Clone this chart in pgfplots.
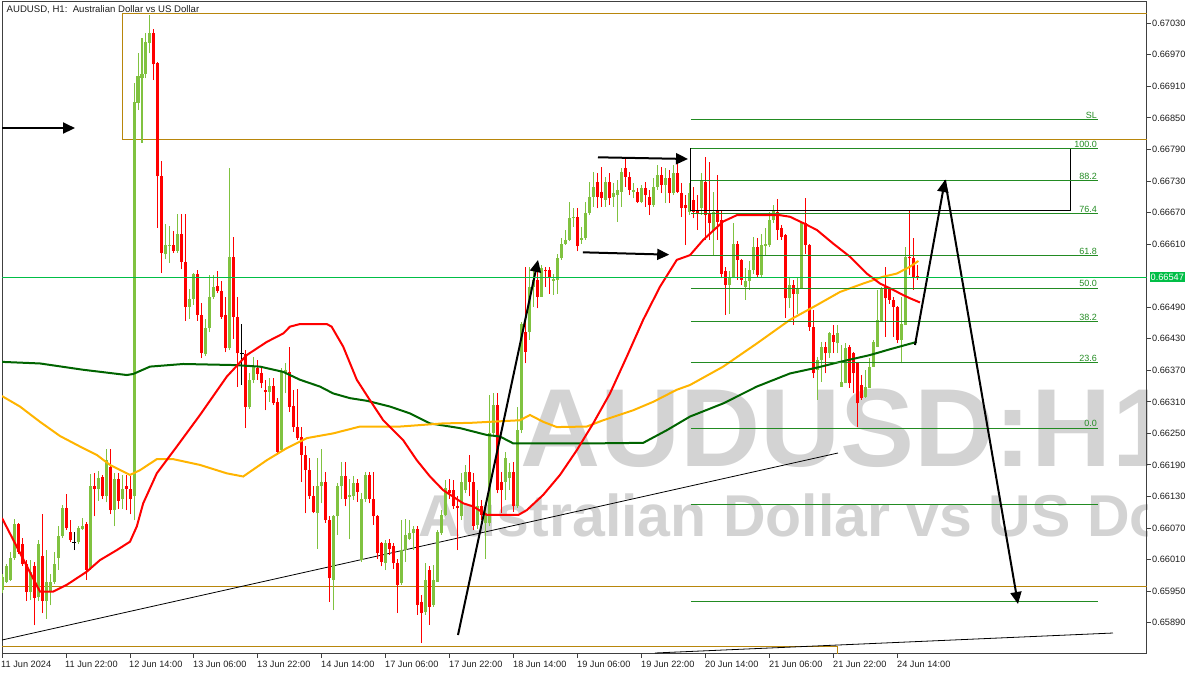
\documentclass[border=0pt]{standalone}
\usepackage{pgfplots}
\pgfplotsset{compat=1.18}
\usepackage{pgfplotstable}
\usepackage{fontspec}
\setmainfont{Liberation Sans}
\usetikzlibrary{arrows.meta}

\definecolor{bullc}{RGB}{128,194,64}
\definecolor{bearc}{RGB}{255,0,0}
\definecolor{maorange}{RGB}{255,180,0}
\definecolor{madkgreen}{RGB}{0,100,0}
\definecolor{fibc}{RGB}{34,139,34}
\definecolor{pricec}{RGB}{0,190,70}
\definecolor{goldline}{RGB}{184,134,11}
\definecolor{wmark}{RGB}{211,211,211}
\definecolor{framec}{RGB}{64,64,64}
\definecolor{axtext}{RGB}{30,30,30}

% bullish candles: bar index, open, high, low, close
\pgfplotstableread{
i o h l c
0 0.65953 0.65983 0.65946 0.65976
1 0.65968 0.66002 0.65966 0.65998
2 0.65972 0.66025 0.65970 0.66013
3 0.66013 0.66087 0.66010 0.66077
7 0.65949 0.66010 0.65934 0.65987
9 0.65938 0.66047 0.65931 0.66040
11 0.65931 0.66028 0.65897 0.65968
12 0.65949 0.65983 0.65923 0.65968
13 0.65968 0.66025 0.65964 0.66002
14 0.66013 0.66073 0.65991 0.66055
15 0.66055 0.66113 0.66051 0.66109
19 0.66043 0.66073 0.66040 0.66070
20 0.66069 0.66090 0.66066 0.66073
22 0.65994 0.66173 0.65991 0.66149
24 0.66145 0.66179 0.66122 0.66165
26 0.66130 0.66220 0.66119 0.66199
28 0.66104 0.66175 0.66073 0.66164
30 0.66126 0.66171 0.66107 0.66145
33 0.66130 0.66916 0.66085 0.66881
34 0.66879 0.66973 0.66865 0.66930
35 0.66926 0.67002 0.66803 0.66934
36 0.66934 0.67011 0.66925 0.66995
37 0.66993 0.67046 0.66973 0.67011
41 0.66591 0.66649 0.66581 0.66608
42 0.66606 0.66645 0.66574 0.66608
44 0.66597 0.66668 0.66593 0.66630
47 0.66491 0.66525 0.66468 0.66506
48 0.66506 0.66555 0.66495 0.66553
51 0.66401 0.66468 0.66397 0.66450
52 0.66450 0.66551 0.66442 0.66510
53 0.66510 0.66551 0.66506 0.66528
57 0.66412 0.66754 0.66408 0.66585
62 0.66300 0.66365 0.66296 0.66352
63 0.66352 0.66396 0.66345 0.66377
67 0.66328 0.66355 0.66310 0.66340
70 0.66218 0.66374 0.66215 0.66367
71 0.66364 0.66383 0.66326 0.66371
79 0.66098 0.66203 0.66031 0.66149
80 0.66149 0.66220 0.66117 0.66158
83 0.65971 0.66095 0.65914 0.66092
84 0.66092 0.66155 0.66057 0.66149
85 0.66149 0.66196 0.66126 0.66168
87 0.66129 0.66164 0.66050 0.66132
88 0.66130 0.66168 0.66123 0.66155
90 0.66009 0.66136 0.66006 0.66126
91 0.66126 0.66177 0.66120 0.66171
96 0.66003 0.66047 0.65990 0.66041
100 0.65965 0.66085 0.65962 0.66028
101 0.66028 0.66088 0.66006 0.66057
102 0.66050 0.66085 0.66047 0.66060
103 0.66060 0.66073 0.66028 0.66069
106 0.65911 0.66003 0.65905 0.65971
108 0.65924 0.66000 0.65920 0.65971
109 0.65968 0.66066 0.65968 0.66063
110 0.66060 0.66104 0.66057 0.66095
111 0.66095 0.66161 0.66092 0.66146
115 0.66092 0.66174 0.66085 0.66158
116 0.66142 0.66190 0.66136 0.66177
119 0.66076 0.66142 0.66069 0.66111
121 0.66079 0.66114 0.66012 0.66098
122 0.66079 0.66323 0.66073 0.66250
123 0.66250 0.66326 0.66245 0.66304
126 0.66158 0.66215 0.66123 0.66203
127 0.66165 0.66193 0.66142 0.66177
129 0.66111 0.66301 0.66108 0.66256
130 0.66256 0.66462 0.66250 0.66459
132 0.66443 0.66567 0.66428 0.66529
133 0.66529 0.66567 0.66491 0.66542
135 0.66510 0.66570 0.66510 0.66564
138 0.66540 0.66554 0.66513 0.66543
139 0.66542 0.66592 0.66516 0.66583
140 0.66583 0.66621 0.66580 0.66611
141 0.66611 0.66637 0.66608 0.66618
142 0.66618 0.66691 0.66615 0.66659
143 0.66659 0.66678 0.66643 0.66662
145 0.66618 0.66643 0.66611 0.66621
146 0.66621 0.66691 0.66618 0.66669
147 0.66669 0.66729 0.66665 0.66700
148 0.66700 0.66748 0.66681 0.66719
151 0.66694 0.66738 0.66681 0.66729
153 0.66700 0.66726 0.66681 0.66707
154 0.66703 0.66732 0.66653 0.66713
155 0.66710 0.66754 0.66681 0.66748
158 0.66710 0.66726 0.66697 0.66713
160 0.66691 0.66722 0.66688 0.66716
163 0.66684 0.66735 0.66681 0.66719
164 0.66719 0.66760 0.66713 0.66741
166 0.66722 0.66754 0.66688 0.66735
168 0.66707 0.66760 0.66703 0.66745
172 0.66672 0.66726 0.66665 0.66707
175 0.66678 0.66745 0.66665 0.66732
178 0.66637 0.66710 0.66589 0.66672
182 0.66532 0.66558 0.66478 0.66548
183 0.66545 0.66650 0.66545 0.66611
186 0.66529 0.66564 0.66504 0.66539
187 0.66539 0.66577 0.66523 0.66561
188 0.66561 0.66624 0.66554 0.66605
190 0.66551 0.66630 0.66548 0.66608
191 0.66606 0.66640 0.66589 0.66611
192 0.66608 0.66672 0.66605 0.66656
193 0.66656 0.66684 0.66650 0.66675
197 0.66507 0.66545 0.66488 0.66532
199 0.66516 0.66548 0.66478 0.66526
200 0.66526 0.66653 0.66526 0.66650
204 0.66371 0.66396 0.66314 0.66390
205 0.66390 0.66424 0.66348 0.66415
207 0.66402 0.66443 0.66393 0.66440
209 0.66421 0.66456 0.66402 0.66440
210 0.66339 0.66418 0.66339 0.66348
211 0.66345 0.66421 0.66345 0.66412
216 0.66320 0.66371 0.66317 0.66339
217 0.66336 0.66393 0.66336 0.66377
218 0.66377 0.66428 0.66377 0.66424
219 0.66415 0.66523 0.66415 0.66466
220 0.66462 0.66529 0.66462 0.66526
225 0.66428 0.66510 0.66383 0.66459
226 0.66456 0.66605 0.66456 0.66586
}\bull

% bearish candles
\pgfplotstableread{
i o h l c
4 0.66077 0.66079 0.66021 0.66025
5 0.66040 0.66051 0.65998 0.66002
6 0.66002 0.66010 0.65931 0.65949
8 0.65998 0.66006 0.65885 0.65937
10 0.66017 0.66097 0.65908 0.65931
16 0.66109 0.66134 0.66066 0.66070
17 0.66062 0.66085 0.66043 0.66047
21 0.66077 0.66081 0.65972 0.65991
23 0.66150 0.66175 0.66092 0.66144
25 0.66167 0.66170 0.66126 0.66130
27 0.66186 0.66220 0.66096 0.66104
29 0.66164 0.66175 0.66107 0.66122
31 0.66149 0.66171 0.66104 0.66144
32 0.66145 0.66168 0.66096 0.66126
38 0.67011 0.67019 0.66922 0.66952
39 0.66954 0.66957 0.66641 0.66739
40 0.66739 0.66769 0.66555 0.66593
43 0.66608 0.66634 0.66593 0.66597
45 0.66630 0.66668 0.66562 0.66576
46 0.66576 0.66668 0.66464 0.66491
49 0.66553 0.66561 0.66464 0.66476
50 0.66476 0.66498 0.66393 0.66403
54 0.66531 0.66559 0.66517 0.66521
55 0.66521 0.66540 0.66468 0.66472
56 0.66476 0.66510 0.66404 0.66412
58 0.66585 0.66624 0.66430 0.66472
59 0.66472 0.66510 0.66339 0.66402
61 0.66401 0.66409 0.66260 0.66300
64 0.66374 0.66390 0.66352 0.66363
65 0.66365 0.66377 0.66336 0.66345
66 0.66333 0.66352 0.66294 0.66328
68 0.66340 0.66355 0.66304 0.66307
69 0.66310 0.66317 0.66209 0.66215
72 0.66367 0.66414 0.66291 0.66301
73 0.66302 0.66333 0.66253 0.66262
74 0.66263 0.66334 0.66237 0.66241
75 0.66244 0.66263 0.66158 0.66209
76 0.66209 0.66226 0.66098 0.66180
77 0.66180 0.66203 0.66126 0.66130
78 0.66130 0.66149 0.66098 0.66100
81 0.66158 0.66177 0.66080 0.66085
82 0.66085 0.66092 0.65930 0.65974
86 0.66168 0.66196 0.66111 0.66126
89 0.66155 0.66164 0.66120 0.66139
92 0.66171 0.66177 0.66117 0.66126
93 0.66126 0.66177 0.66076 0.66092
94 0.66092 0.66095 0.66012 0.66022
95 0.66041 0.66044 0.65997 0.66006
97 0.66041 0.66050 0.66019 0.66031
98 0.66035 0.66041 0.65993 0.66003
99 0.66003 0.66012 0.65908 0.65962
104 0.66069 0.66073 0.65905 0.65924
105 0.65930 0.65943 0.65851 0.65908
107 0.65990 0.65997 0.65886 0.65920
112 0.66142 0.66164 0.66126 0.66136
113 0.66142 0.66161 0.66107 0.66111
114 0.66112 0.66130 0.66028 0.66109
117 0.66177 0.66209 0.66130 0.66158
118 0.66158 0.66174 0.66066 0.66073
120 0.66111 0.66123 0.66085 0.66095
124 0.66304 0.66326 0.66136 0.66142
125 0.66158 0.66177 0.66098 0.66142
128 0.66177 0.66196 0.66101 0.66111
131 0.66443 0.66567 0.66383 0.66405
134 0.66542 0.66564 0.66488 0.66510
136 0.66561 0.66567 0.66529 0.66558
137 0.66561 0.66567 0.66516 0.66548
144 0.66661 0.66678 0.66596 0.66606
149 0.66729 0.66745 0.66678 0.66700
150 0.66710 0.66757 0.66681 0.66697
152 0.66729 0.66745 0.66684 0.66697
156 0.66754 0.66773 0.66719 0.66738
157 0.66738 0.66748 0.66703 0.66713
159 0.66710 0.66716 0.66688 0.66691
161 0.66716 0.66729 0.66681 0.66703
162 0.66700 0.66713 0.66665 0.66684
165 0.66741 0.66757 0.66707 0.66722
167 0.66735 0.66751 0.66688 0.66707
169 0.66745 0.66764 0.66707 0.66710
170 0.66707 0.66726 0.66662 0.66678
171 0.66684 0.66703 0.66608 0.66678
173 0.66694 0.66719 0.66659 0.66672
174 0.66675 0.66703 0.66637 0.66667
176 0.66729 0.66776 0.66618 0.66665
177 0.66668 0.66767 0.66618 0.66650
179 0.66675 0.66741 0.66618 0.66653
180 0.66656 0.66675 0.66545 0.66554
181 0.66558 0.66567 0.66475 0.66532
184 0.66611 0.66615 0.66542 0.66580
185 0.66580 0.66582 0.66532 0.66542
189 0.66605 0.66621 0.66548 0.66551
194 0.66672 0.66695 0.66618 0.66637
195 0.66640 0.66646 0.66618 0.66624
196 0.66627 0.66630 0.66469 0.66507
198 0.66532 0.66542 0.66456 0.66516
201 0.66650 0.66697 0.66592 0.66608
202 0.66608 0.66611 0.66445 0.66453
203 0.66453 0.66485 0.66355 0.66364
206 0.66415 0.66424 0.66364 0.66402
208 0.66437 0.66456 0.66402 0.66424
212 0.66415 0.66418 0.66336 0.66345
213 0.66402 0.66405 0.66326 0.66364
214 0.66383 0.66386 0.66263 0.66307
215 0.66342 0.66361 0.66314 0.66317
221 0.66529 0.66567 0.66434 0.66507
222 0.66526 0.66529 0.66497 0.66504
223 0.66504 0.66510 0.66434 0.66491
224 0.66491 0.66493 0.66421 0.66428
227 0.66586 0.66675 0.66551 0.66583
228 0.66583 0.66621 0.66523 0.66545
229 0.66549 0.66570 0.66542 0.66547
}\bear

% doji candles (open = close)
\pgfplotstableread{
i o h l c
18 0.66042 0.66062 0.66028 0.66042
60 0.66401 0.66459 0.66342 0.66401
}\doji

% moving averages
\pgfplotstableread{
i p
0 0.66089
9.5 0.65949
12.75 0.65949
16.2 0.65962
21.2 0.65987
24.5 0.66009
28.7 0.66028
32 0.66044
33.7 0.66073
35.3 0.66117
38.7 0.66174
43.7 0.66225
49.5 0.66285
56.2 0.66358
61.2 0.66399
66.2 0.66424
70.3 0.66440
72 0.66453
74.5 0.66458
81.2 0.66458
82.4 0.66453
85.3 0.66415
88.7 0.66352
92 0.66313
95.3 0.66275
100.3 0.66237
103.7 0.66199
107 0.66168
110.3 0.66142
115.3 0.66117
117.8 0.66111
121.2 0.66095
129.1 0.66095
131.2 0.66104
135.3 0.66133
139.5 0.66171
143.7 0.66218
147.8 0.66269
152 0.66326
156.2 0.66396
160.3 0.66466
164.5 0.66529
168.7 0.66580
172 0.66589
175.3 0.66618
180.3 0.66653
183.7 0.66665
194.5 0.66665
197 0.66662
200.3 0.66650
203.7 0.66637
207.8 0.66611
212 0.66586
216.2 0.66554
219.5 0.66535
222.8 0.66523
225.3 0.66513
227 0.66507
229.5 0.66499
}\mared

\pgfplotstableread{
i p
0 0.66321
4.5 0.66301
9.5 0.66272
14.5 0.66245
19.5 0.66225
23.7 0.66209
27 0.66190
32 0.66171
34.5 0.66180
38.7 0.66201
42.8 0.66201
49.5 0.66190
56.2 0.66174
60.3 0.66168
66.2 0.66199
71.2 0.66222
76.2 0.66241
82.8 0.66250
89.5 0.66263
99.5 0.66263
110.3 0.66269
117 0.66270
129.5 0.66275
132 0.66285
135.3 0.66272
138.7 0.66262
146.2 0.66263
150.3 0.66275
157.8 0.66294
162.8 0.66310
168.7 0.66333
172 0.66342
180.3 0.66377
188.7 0.66421
197 0.66466
203.7 0.66494
209.5 0.66519
215.3 0.66535
220.3 0.66548
223.7 0.66554
227 0.66567
229.1 0.66578
}\maorg

\pgfplotstableread{
i p
0 0.66386
9.5 0.66383
20.3 0.66371
31.2 0.66361
32.8 0.66363
37 0.66377
45.3 0.66382
57.8 0.66380
64.5 0.66377
70.3 0.66367
74.5 0.66352
79.5 0.66339
82.8 0.66326
87 0.66317
91.2 0.66312
97 0.66301
102 0.66288
107 0.66269
114.5 0.66260
121.2 0.66247
124.5 0.66244
127.8 0.66231
147.8 0.66231
160.3 0.66232
166.2 0.66256
172 0.66282
180.3 0.66307
188.7 0.66339
197 0.66364
203.7 0.66375
209.5 0.66386
217 0.66399
222 0.66410
228.7 0.66424
}\magrn

\begin{document}
\begin{tikzpicture}[x=1pt,y=1pt]
\useasboundingbox (0,0) rectangle (1200,675);
% watermark behind the chart
\begin{scope}
  \clip (2,21) rectangle (1147,673);
  \node[anchor=base west, inner sep=0pt, text=wmark,
        font=\fontsize{111}{111}\selectfont\bfseries] at (520,208.5) {AUDUSD:H1};
  \node[anchor=base west, inner sep=0pt, text=wmark,
        font=\fontsize{59}{59}\selectfont\bfseries] at (418,138) {Australian Dollar vs US Dollar};
\end{scope}

\begin{axis}[
  at={(2pt,21pt)}, anchor=south west, scale only axis,
  width=1145pt, height=652pt,
  xmin=0, xmax=286.25,
  ymin=0.658304, ymax=0.670705,
  axis line style={framec, line width=1pt},
  tick style={framec, line width=1pt},
  tick align=outside, major tick length=4pt,
  xtick pos=bottom, ytick pos=right, yticklabel pos=right,
  scaled y ticks=false,
  ytick={0.65890,0.65950,0.66010,0.66070,0.66130,0.66190,0.66250,0.66310,0.66370,0.66430,0.66490,0.66610,0.66670,0.66730,0.66790,0.66850,0.66910,0.66970,0.67030},
  yticklabel style={font=\fontsize{9.2}{10}\selectfont, text=axtext, anchor=west, inner sep=0pt, xshift=1pt,
    /pgf/number format/fixed, /pgf/number format/fixed zerofill,
    /pgf/number format/precision=5, /pgf/number format/assume math mode=true},
  xtick={0,16,32,48,64,80,96,112,128,144,160,176,192,208,224},
  xticklabels={11 Jun 2024, 11 Jun 22:00, 12 Jun 14:00, 13 Jun 06:00, 13 Jun 22:00, 14 Jun 14:00, 17 Jun 06:00, 17 Jun 22:00, 18 Jun 14:00, 19 Jun 06:00, 19 Jun 22:00, 20 Jun 14:00, 21 Jun 06:00, 21 Jun 22:00, 24 Jun 14:00},
  xticklabel style={font=\fontsize{9.2}{10}\selectfont, text=axtext, anchor=north west, inner sep=0pt, xshift=-1pt, yshift=-2.5pt},
]
% boxes and horizontal levels
\addplot[goldline, line width=1pt] coordinates {(300,0.670490) (30,0.670490) (30,0.668099) (300,0.668099)};
\addplot[goldline, line width=1pt] coordinates {(-5,0.659597) (300,0.659597)};
\addplot[goldline, line width=1pt] coordinates {(-5,0.658450) (209,0.658450) (209,0.6570)};
% trend lines
\addplot[black, line width=0.8pt] coordinates {(0,0.658570) (209,0.662127)};
\addplot[black, line width=0.8pt] coordinates {(163.25,0.658323) (277.75,0.658703)};

% candles: wicks then bodies
\addplot[draw=none, mark=none, error bars/.cd, y dir=plus, y explicit, error mark=none,
  error bar style={draw=bullc, line width=1pt}]
  table[x=i, y=l, y error plus expr=\thisrow{h}-\thisrow{l}] {\bull};
\addplot[draw=none, mark=none, error bars/.cd, y dir=plus, y explicit, error mark=none,
  error bar style={draw=bullc, line width=3pt}]
  table[x=i, y=o, y error plus expr=\thisrow{c}-\thisrow{o}] {\bull};
\addplot[draw=none, mark=none, error bars/.cd, y dir=plus, y explicit, error mark=none,
  error bar style={draw=bearc, line width=1pt}]
  table[x=i, y=l, y error plus expr=\thisrow{h}-\thisrow{l}] {\bear};
\addplot[draw=none, mark=none, error bars/.cd, y dir=plus, y explicit, error mark=none,
  error bar style={draw=bearc, line width=3pt}]
  table[x=i, y=c, y error plus expr=\thisrow{o}-\thisrow{c}] {\bear};
\addplot[draw=none, mark=none, error bars/.cd, y dir=plus, y explicit, error mark=none,
  error bar style={draw=black, line width=1pt}]
  table[x=i, y=l, y error plus expr=\thisrow{h}-\thisrow{l}] {\doji};
\addplot[only marks, mark=-, mark size=2pt, mark options={line width=1pt, black}]
  table[x=i, y=o] {\doji};

% moving averages
\addplot[madkgreen, line width=2pt] table[x=i, y=p] {\magrn};
\addplot[maorange, line width=2pt] table[x=i, y=p] {\maorg};
\addplot[bearc, line width=2pt] table[x=i, y=p] {\mared};

% fibonacci box
\addplot[black, line width=1pt] coordinates {(172.25,0.667922) (267.2,0.667922) (267.2,0.666736) (172.25,0.666736) (172.25,0.667922)};
\addplot[fibc, line width=1pt] coordinates {(172.25,0.668461) (274,0.668461)};
\addplot[fibc, line width=1pt] coordinates {(172.25,0.667922) (274,0.667922)};
\addplot[fibc, line width=1pt] coordinates {(172.25,0.667301) (274,0.667301)};
\addplot[fibc, line width=1pt] coordinates {(172.25,0.666673) (274,0.666673)};
\addplot[fibc, line width=1pt] coordinates {(172.25,0.665887) (274,0.665887)};
\addplot[fibc, line width=1pt] coordinates {(172.25,0.665260) (274,0.665260)};
\addplot[fibc, line width=1pt] coordinates {(172.25,0.664632) (274,0.664632)};
\addplot[fibc, line width=1pt] coordinates {(172.25,0.663852) (274,0.663852)};
\addplot[fibc, line width=1pt] coordinates {(172.25,0.662597) (274,0.662597)};
\addplot[fibc, line width=1pt] coordinates {(172.25,0.661151) (274,0.661151)};
\addplot[fibc, line width=1pt] coordinates {(172.25,0.659306) (274,0.659306)};
\begin{scope}[every node/.style={anchor=south east, inner sep=1pt, text=fibc, font=\fontsize{9}{10}\selectfont}]
\node at (axis cs:274,0.668461) {SL};
\node at (axis cs:274,0.667922) {100.0};
\node at (axis cs:274,0.667301) {88.2};
\node at (axis cs:274,0.666673) {76.4};
\node at (axis cs:274,0.665887) {61.8};
\node at (axis cs:274,0.665260) {50.0};
\node at (axis cs:274,0.664632) {38.2};
\node at (axis cs:274,0.663852) {23.6};
\node at (axis cs:274,0.662597) {0.0};
\end{scope}

% arrows
\addplot[black, line width=2pt, -{Triangle[length=12pt,width=11pt]}] coordinates {(-1,0.668308) (18.25,0.668308)};
\addplot[black, line width=2pt, -{Triangle[length=12pt,width=11pt]}] coordinates {(149,0.667751) (171.5,0.667719)};
\addplot[black, line width=2pt, -{Triangle[length=12pt,width=11pt]}] coordinates {(145.2,0.665944) (166.8,0.665899)};
\addplot[black, line width=2pt, -{Triangle[length=12pt,width=11pt]}] coordinates {(114,0.658665) (134,0.665798)};
\addplot[black, line width=2pt, -{Triangle[length=12pt,width=11pt]}] coordinates {(228.25,0.664181) (235.75,0.667319)};
\addplot[black, line width=2pt, -{Triangle[length=12pt,width=11pt]}] coordinates {(235.75,0.667319) (254,0.659255)};

% current price line
\addplot[pricec, line width=0.8pt] coordinates {(0,0.66547) (286.25,0.66547)};
\coordinate (pl) at (axis cs:286.25,0.66547);
\end{axis}

\node[anchor=west, fill=pricec, text=white, inner sep=1pt, minimum height=10.5pt,
      font=\fontsize{9.2}{10}\selectfont] at ([xshift=2.5pt]pl) {0.66547};
\node[anchor=west, inner sep=0pt, text=axtext, font=\fontsize{9.6}{10}\selectfont] at (6.5,665) {AUDUSD, H1:\ \ Australian Dollar vs US Dollar};
\end{tikzpicture}
\end{document}
